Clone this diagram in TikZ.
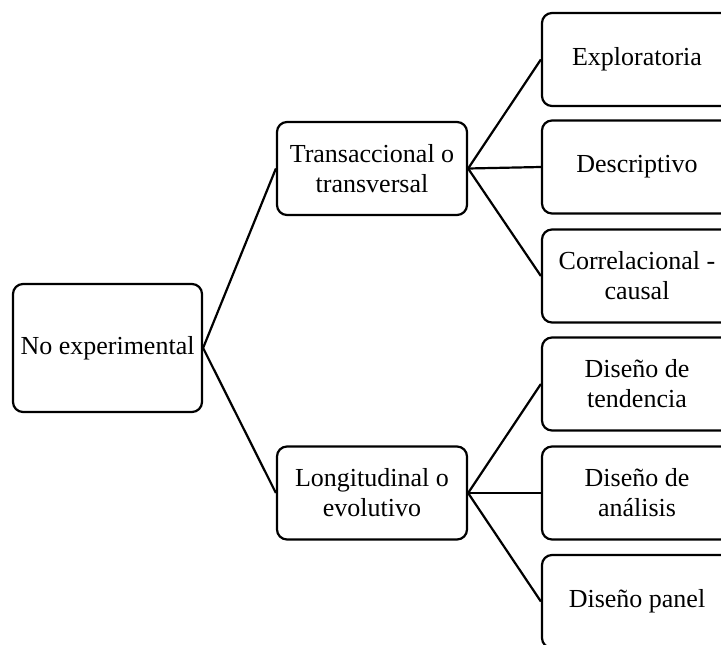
\documentclass[tikz,border=0pt]{standalone}
\usepackage{fontspec}
\setmainfont{Liberation Serif}
\begin{document}
\begin{tikzpicture}[x=1pt,y=-1pt,
  box/.style={draw=black,line width=2.2pt,rounded corners=10pt,minimum width=190pt,minimum height=93pt,inner sep=0pt,align=center,font=\fontsize{26}{30}\selectfont,fill=white},
  link/.style={draw=black,line width=2.2pt}]
\useasboundingbox (0,0) rectangle (721,645);
\clip (0,0) rectangle (721,645);
\node[box,minimum width=189pt,minimum height=128pt] (root) at (107.5,348) {No experimental};
\node[box] (tra) at (372,168.5) {Transaccional o\\transversal};
\node[box] (lon) at (372,493) {Longitudinal o\\evolutivo};
\node[box] (exp) at (637,59.5) {Exploratoria};
\node[box] (des) at (637,167) {Descriptivo};
\node[box] (cor) at (637,276) {Correlacional -\\causal};
\node[box] (ten) at (637,384) {Diseño de\\tendencia};
\node[box] (ana) at (637,493) {Diseño de\\análisis};
\node[box] (pan) at (637,601.5) {Diseño panel};
\draw[link] (root.east) -- (tra.west);
\draw[link] (root.east) -- (lon.west);
\draw[link] (tra.east) -- (exp.west);
\draw[link] (tra.east) -- (des.west);
\draw[link] (tra.east) -- (cor.west);
\draw[link] (lon.east) -- (ten.west);
\draw[link] (lon.east) -- (ana.west);
\draw[link] (lon.east) -- (pan.west);
\end{tikzpicture}
\end{document}
